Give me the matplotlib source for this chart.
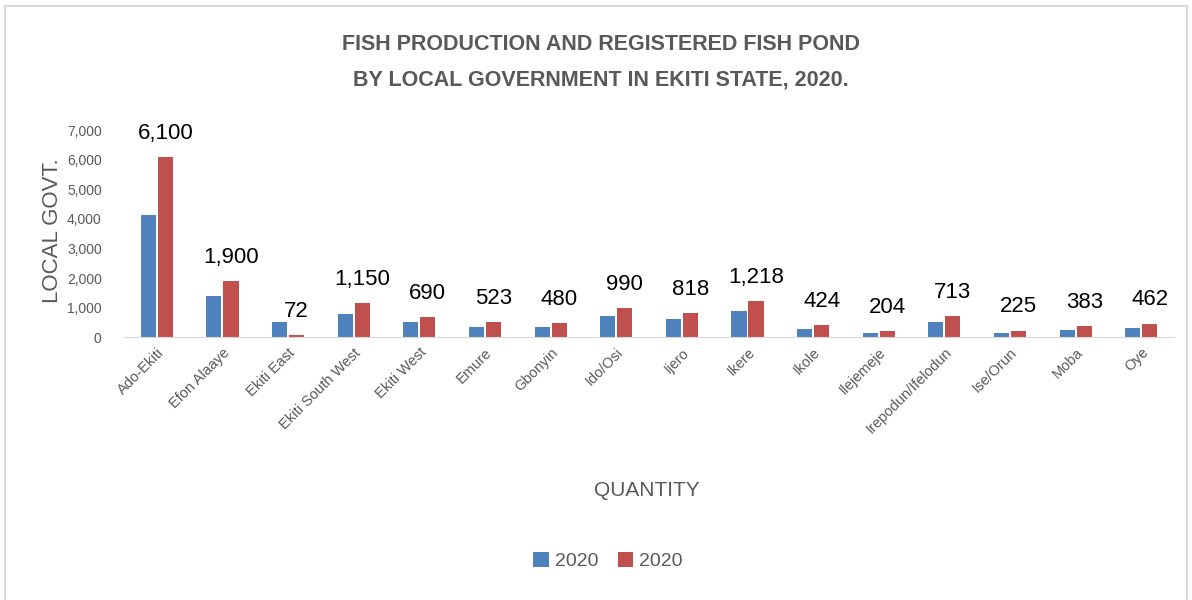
import numpy as np
import matplotlib
matplotlib.use('Agg')
import matplotlib.pyplot as plt
from matplotlib.patches import Rectangle

# data
lgas = ['Ado-Ekiti', 'Efon Alaaye', 'Ekiti East', 'Ekiti South West', 'Ekiti West',
        'Emure', 'Gbonyin', 'Ido/Osi', 'Ijero', 'Ikere', 'Ikole', 'Ilejemeje',
        'Irepodun/Ifelodun', 'Ise/Orun', 'Moba', 'Oye']
ponds_2020 = [4140, 1400, 500, 800, 500, 360, 360, 710, 620, 890, 270, 150, 530, 150, 230, 320]
fish_2020 = [6100, 1900, 72, 1150, 690, 523, 480, 990, 818, 1218, 424, 204, 713, 225, 383, 462]
yticks = [0, 1000, 2000, 3000, 4000, 5000, 6000, 7000]

plt.rcParams['font.family'] = ['Liberation Sans', 'DejaVu Sans']
grey = '#595959'

fig = plt.figure(figsize=(11.92, 6.0), dpi=100)
ax = fig.add_axes([0.104, 0.438, 0.881, 0.345])

x = np.arange(len(lgas))
bar_width = 0.23
ax.bar(x - bar_width / 2 - 0.015, ponds_2020, width=bar_width, color='#4f81bd', label='2020')
bars = ax.bar(x + bar_width / 2 + 0.015, fish_2020, width=bar_width, color='#c0504d', label='2020')

# value labels above the red bars
for b, v in zip(bars, fish_2020):
    ax.annotate(f'{v:,}', (b.get_x() + b.get_width() / 2, v), xytext=(0, 13),
                textcoords='offset points', ha='center', va='baseline',
                fontsize=16, color='black')

ax.set_xlim(-0.5, len(lgas) - 0.5)
ax.set_ylim(0, 7000)
ax.set_yticks(yticks)
ax.set_yticklabels([f'{t:,}' for t in yticks])
ax.set_xticks(x)
ax.set_xticklabels(lgas, rotation=45, ha='right', rotation_mode='anchor')
ax.tick_params(axis='both', length=0, colors=grey, labelsize=10)
ax.tick_params(axis='x', labelsize=10.5, pad=6)
ax.tick_params(axis='y', pad=16)

for s in ['top', 'right', 'left']:
    ax.spines[s].set_visible(False)
ax.spines['bottom'].set_color('#d9d9d9')

fig.text(0.044, 0.615, 'LOCAL GOVT.', rotation=90, ha='center', va='center',
         fontsize=16, color=grey)
fig.text(0.543, 0.183, 'QUANTITY', ha='center', va='center', fontsize=15, color=grey)

fig.text(0.504, 0.925, 'FISH PRODUCTION AND REGISTERED FISH POND', ha='center', va='center',
         fontsize=15.5, fontweight='bold', color=grey)
fig.text(0.504, 0.867, 'BY LOCAL GOVERNMENT IN EKITI STATE, 2020.', ha='center', va='center',
         fontsize=15.5, fontweight='bold', color=grey)

fig.legend(loc='center', bbox_to_anchor=(0.51, 0.065), ncol=2, frameon=False,
           fontsize=14, labelcolor=grey, handlelength=0.8, handleheight=0.8,
           handletextpad=0.3, columnspacing=1.0)

fig.patches.append(Rectangle((0.004, -0.01), 0.992, 1.0, transform=fig.transFigure,
                             fill=False, edgecolor='#d9d9d9', linewidth=1.5))

fig.savefig('out.png', dpi=100, facecolor='white')
